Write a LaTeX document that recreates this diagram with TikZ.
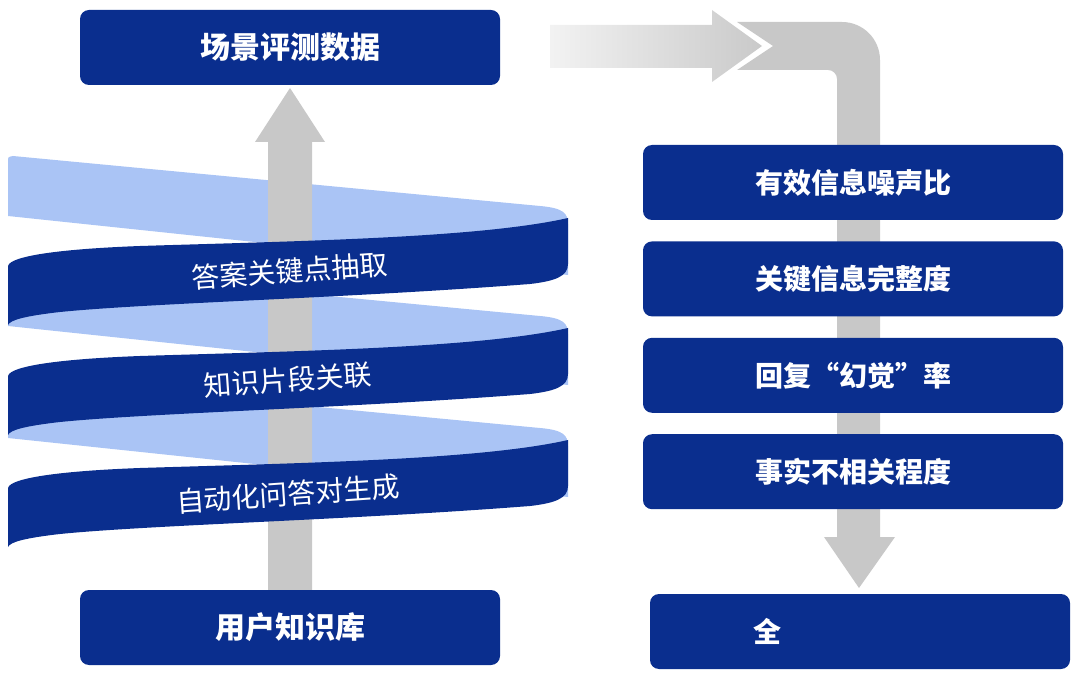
\documentclass[tikz,border=0pt]{standalone}
\usepackage{fontspec}
\newfontfamily\cjk{Noto Sans CJK SC}
\newfontfamily\cjkfw[CharacterWidth=Full]{Noto Sans CJK SC}
\usetikzlibrary{positioning}
\definecolor{navy}{RGB}{10,46,142}
\definecolor{backblue}{RGB}{170,196,245}
\definecolor{pipegray}{RGB}{200,200,200}

\begin{document}
\begin{tikzpicture}[x=1pt,y=-1pt,>=latex,
  metric/.style={rounded corners=9pt, fill=navy, text=white, minimum width=420pt, minimum height=75pt, inner sep=0pt, font=\cjk\bfseries\fontsize{28}{28}\selectfont},
  title/.style={metric, font=\cjk\bfseries\fontsize{30}{30}\selectfont},
  metrictext/.style={text=white, inner sep=0pt, font=\cjk\bfseries\fontsize{28}{28}\selectfont},
  ribbontext/.style={text=white, inner sep=0pt, rotate=4, font=\cjk\fontsize{28}{28}\selectfont},
  backband/.style={fill=backblue},
  frontband/.style={fill=navy},
  pipe/.style={fill=pipegray}]
\useasboundingbox (0,0) rectangle (1080,676);
\foreach \d in {0,110,222}
  \fill[backband,shift={(0,\d)}] (8,216) -- (8,161) .. controls (8,157) .. (13,156) -- (540,206) .. controls (563,208) and (568,213) .. (568,224) -- (568,275) -- cycle;
\fill[pipe] (268,600) -- (268,142) -- (255,142) -- (290,88) -- (325,142) -- (312,142) -- (312,600) -- cycle;
\foreach \d in {0,110,222}
  \fill[frontband,shift={(0,\d)}] (8,325) -- (8,266) .. controls (10,256) and (60,249) .. (140,246) .. controls (300,241) and (480,238) .. (568,218) -- (568,264) .. controls (568,276) and (556,281) .. (530,284) .. controls (350,298) and (150,303) .. (60,312) .. controls (25,316) and (10,320) .. (8,325) -- cycle;
\node[ribbontext] (extract) at (290,271) {答案关键点抽取};
\node[ribbontext] (link) at (288,380) {知识片段关联};
\node[ribbontext] (qagen) at (288,494) {自动化问答对生成};
\shade[left color=black!5, right color=black!21] (550,25) -- (712,25) -- (712,10) -- (762,46) -- (712,82) -- (712,68) -- (550,68) -- cycle;
\fill[pipe] (737,22) -- (842,22) .. controls (863,22) and (880,39) .. (880,60) -- (880,537) -- (895,537) -- (859,588) -- (824,537) -- (837,537) -- (837,79) .. controls (837,74) and (833,70) .. (828,70) -- (737,70) -- (773,46) -- cycle;
\node[title] (scene) at (290,47.5) {场景评测数据};
\node[title] (kb) at (290,627.5) {用户知识库};
\node[metric] (snr) at (853,182.5) {有效信息噪声比};
\node[metric, below=21pt of snr] (complete) {关键信息完整度};
\node[metric, below=21pt of complete] (halluc) {回复{\cjkfw “}幻觉{\cjkfw ”}率};
\node[metric, below=21pt of halluc] (irrel) {事实不相关程度};
\node[metric] (overall) at (860,631.5) {};
\node[metrictext, right=103pt of overall.west] (overalltext) {全};
\end{tikzpicture}
\end{document}
